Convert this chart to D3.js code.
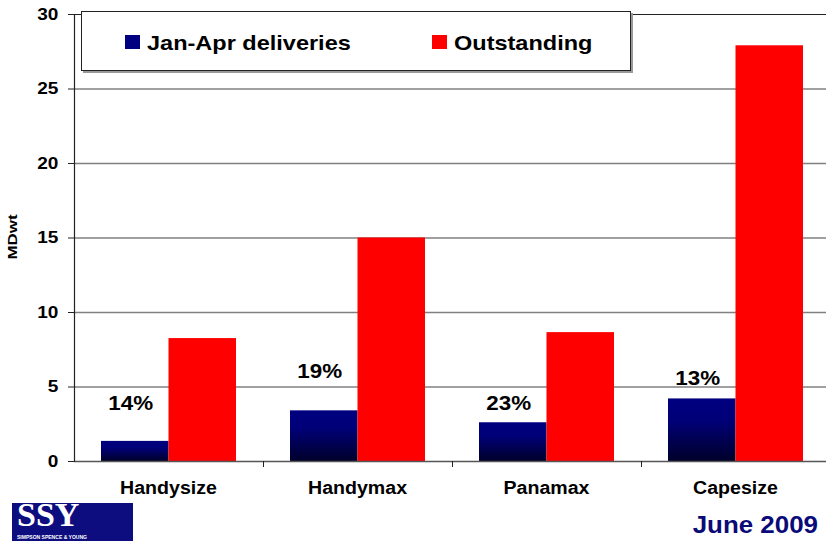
<!DOCTYPE html>
<html>
<head>
<meta charset="utf-8">
<script src="https://cdn.jsdelivr.net/npm/d3@7"></script>
<style>
    body { margin: 0; background: #fff; }
    svg { display: block; font-family: "Liberation Sans", Arial, sans-serif; }
</style>
</head>
<body>
<svg></svg>
<script>
const categories = ['Handysize', 'Handymax', 'Panamax', 'Capesize'];
const seriesNames = ['Jan-Apr deliveries', 'Outstanding'];
const deliveries = [1.35, 3.4, 2.6, 4.2];
const outstanding = [8.25, 15.0, 8.65, 27.9];
const shareLabels = ['14%', '19%', '23%', '13%'];
// where each share label sits, in MDwt
const shareLabelAt = [3.4, 5.6, 3.4, 5.1];
const yTicks = [0, 5, 10, 15, 20, 25, 30];

const width = 826, height = 541;
const plotLeft = 74, plotRight = 830, plotTop = 14, plotBottom = 461;
const stretchX = 1.12;

const svg = d3.select('svg')
    .attr('width', width)
    .attr('height', height);

const defs = svg.append('defs');
const grad = defs.append('linearGradient')
    .attr('id', 'navyGrad')
    .attr('x1', 0).attr('y1', 0).attr('x2', 0).attr('y2', 1);
grad.append('stop').attr('offset', '0%').attr('stop-color', '#000080');
grad.append('stop').attr('offset', '35%').attr('stop-color', '#000078');
grad.append('stop').attr('offset', '100%').attr('stop-color', '#00002a');

const x0 = d3.scaleBand().domain(categories).range([plotLeft, plotRight]).padding(0);
const x1 = d3.scaleBand().domain(seriesNames).range([0, x0.bandwidth()])
    .paddingInner(0).paddingOuter(0.4);
const y = d3.scaleLinear().domain([0, 30]).range([plotBottom, plotTop]);

const rows = categories.map((c, i) => ({
    cat: c,
    values: [
        { key: seriesNames[0], value: deliveries[i] },
        { key: seriesNames[1], value: outstanding[i] }
    ],
    label: shareLabels[i],
    labelAt: shareLabelAt[i]
}));

// gridlines
svg.append('g')
    .attr('class', 'grid')
    .selectAll('line')
    .data(yTicks.filter(t => t > 0 && t < 30))
    .enter()
    .append('line')
    .attr('x1', plotLeft)
    .attr('x2', width)
    .attr('y1', d => y(d) + 0.5)
    .attr('y2', d => y(d) + 0.5)
    .attr('stroke', '#808080')
    .attr('stroke-width', 1.5);

// plot top border
svg.append('line')
    .attr('x1', plotLeft).attr('x2', width)
    .attr('y1', y(30) + 0.5).attr('y2', y(30) + 0.5)
    .attr('stroke', '#222')
    .attr('stroke-width', 1.2);

// bars
const groups = svg.append('g')
    .attr('class', 'bars')
    .selectAll('g')
    .data(rows)
    .enter()
    .append('g')
    .attr('transform', d => `translate(${x0(d.cat)},0)`);

groups.selectAll('rect')
    .data(d => d.values)
    .enter()
    .append('rect')
    .attr('x', d => x1(d.key))
    .attr('width', x1.bandwidth())
    .attr('y', d => y(d.value))
    .attr('height', d => y(0) - y(d.value))
    .attr('fill', (d, i) => i === 0 ? 'url(#navyGrad)' : '#ff0000');

// x axis
const xAxis = svg.append('g')
    .attr('transform', `translate(0,${plotBottom})`);
xAxis.append('line')
    .attr('x1', plotLeft).attr('x2', width)
    .attr('y1', 0.5).attr('y2', 0.5)
    .attr('stroke', '#555')
    .attr('stroke-width', 1.5);
xAxis.selectAll('.tick')
    .data(categories.slice(1))
    .enter()
    .append('line')
    .attr('x1', d => x0(d) + 0.5)
    .attr('x2', d => x0(d) + 0.5)
    .attr('y1', 0)
    .attr('y2', 6)
    .attr('stroke', '#222');
xAxis.selectAll('text')
    .data(categories)
    .enter()
    .append('text')
    .attr('transform', d => `translate(${x0(d) + x0.bandwidth() / 2},33) scale(${stretchX},1)`)
    .attr('text-anchor', 'middle')
    .attr('font-size', '17.5px')
    .attr('font-weight', 'bold')
    .attr('fill', '#000')
    .text(d => d);

// y axis
const yAxis = svg.append('g')
    .attr('transform', `translate(${plotLeft},0)`)
    .call(d3.axisLeft(y).tickValues(yTicks).tickSize(6).tickPadding(8));
yAxis.select('.domain').attr('stroke', '#222').attr('stroke-width', 1.2);
yAxis.selectAll('.tick line').attr('stroke', '#222');
yAxis.selectAll('.tick text')
    .attr('font-family', '"Liberation Sans", Arial, sans-serif')
    .attr('font-size', '17px')
    .attr('font-weight', 'bold')
    .attr('fill', '#000')
    .attr('transform', `scale(${stretchX},1)`);

svg.append('text')
    .attr('transform', `translate(17,237) rotate(-90) scale(1.3,1)`)
    .attr('text-anchor', 'middle')
    .attr('font-size', '13px')
    .attr('font-weight', 'bold')
    .text('MDwt');

// share labels over the delivery bars
svg.append('g')
    .attr('class', 'shares')
    .selectAll('text')
    .data(rows)
    .enter()
    .append('text')
    .attr('transform', d => `translate(${x0(d.cat) + x1(seriesNames[0]) + x1.bandwidth() / 2 - 4},${y(d.labelAt)}) scale(${stretchX},1)`)
    .attr('text-anchor', 'middle')
    .attr('font-size', '20px')
    .attr('font-weight', 'bold')
    .text(d => d.label);

// legend
const legend = svg.append('g').attr('class', 'legend');
legend.append('rect')
    .attr('x', 83).attr('y', 13)
    .attr('width', 550).attr('height', 60)
    .attr('fill', '#999');
legend.append('rect')
    .attr('x', 81.5).attr('y', 11.5)
    .attr('width', 549).attr('height', 59)
    .attr('fill', '#fff')
    .attr('stroke', '#222')
    .attr('stroke-width', 1);
const legendItems = [
    { name: seriesNames[0], fill: '#000080', sx: 125, tx: 147 },
    { name: seriesNames[1], fill: '#ff0000', sx: 432, tx: 454 }
];
legend.selectAll('.swatch')
    .data(legendItems)
    .enter()
    .append('rect')
    .attr('x', d => d.sx)
    .attr('y', 35)
    .attr('width', 15)
    .attr('height', 14)
    .attr('fill', d => d.fill);
legend.selectAll('text')
    .data(legendItems)
    .enter()
    .append('text')
    .attr('transform', d => `translate(${d.tx},50) scale(${stretchX},1)`)
    .attr('font-size', '21px')
    .attr('font-weight', 'bold')
    .text(d => d.name);

// logo
const logo = svg.append('g').attr('class', 'logo');
logo.append('rect')
    .attr('x', 12).attr('y', 503)
    .attr('width', 121).attr('height', 38)
    .attr('fill', '#0d0d80');
logo.append('text')
    .attr('x', 17).attr('y', 526)
    .attr('font-family', '"Liberation Serif", "DejaVu Serif", serif')
    .attr('font-size', '34px')
    .attr('font-weight', 'bold')
    .attr('fill', '#fff')
    .text('SSY');
logo.append('text')
    .attr('x', 17).attr('y', 539)
    .attr('font-size', '5px')
    .attr('font-weight', 'bold')
    .attr('fill', '#fff')
    .attr('textLength', 70)
    .attr('lengthAdjust', 'spacingAndGlyphs')
    .text('SIMPSON SPENCE & YOUNG');

svg.append('text')
    .attr('transform', `translate(818,533) scale(1.08,1)`)
    .attr('text-anchor', 'end')
    .attr('font-size', '24px')
    .attr('font-weight', 'bold')
    .attr('fill', '#0a0a78')
    .text('June 2009');
</script>
</body>
</html>
